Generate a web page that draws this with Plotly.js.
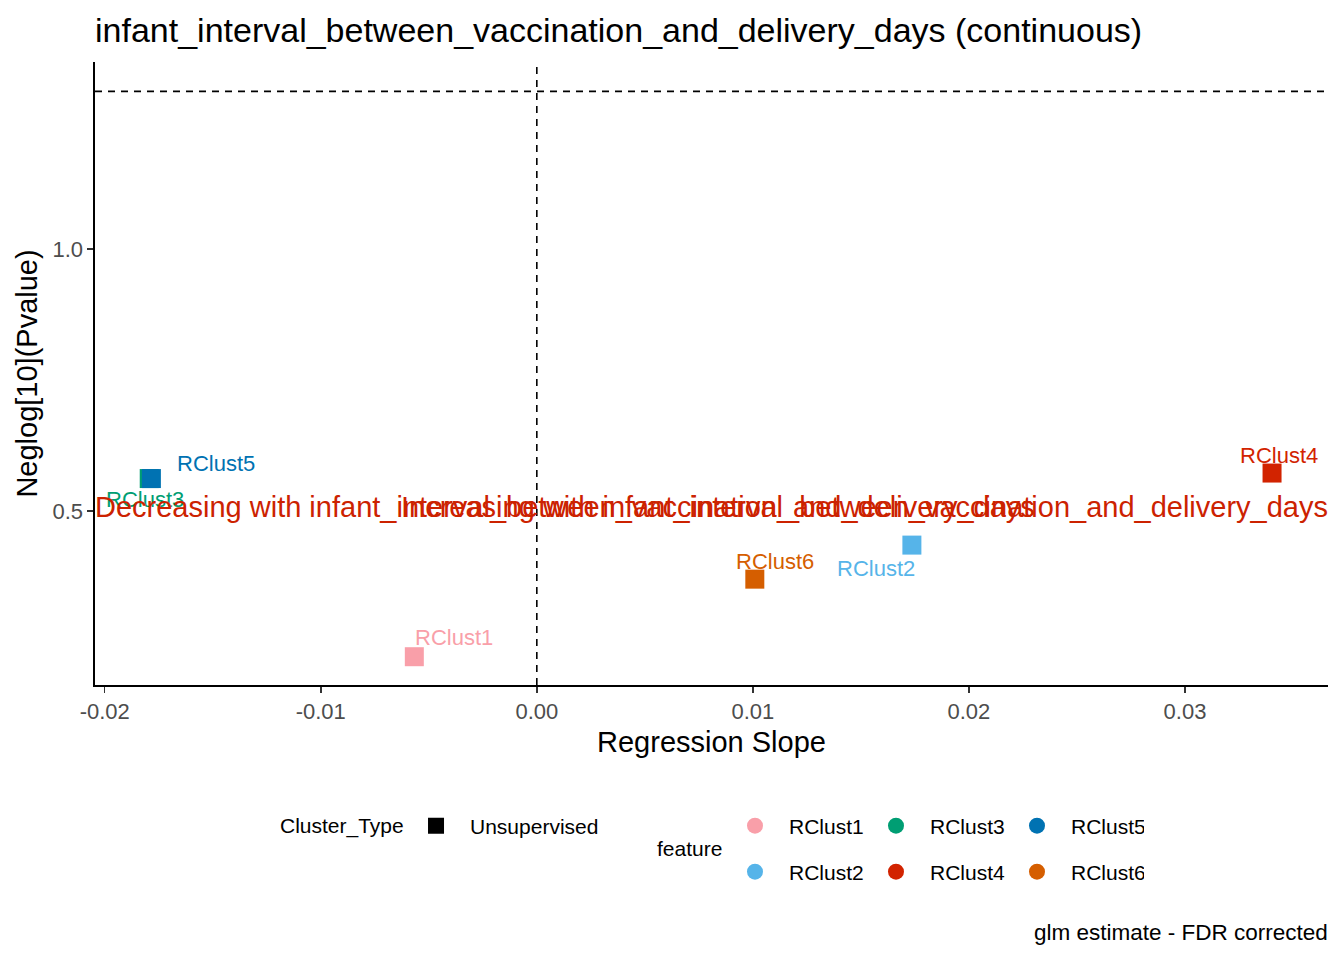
<!DOCTYPE html>
<html>
<head>
<meta charset="utf-8">
<script src="https://cdn.plot.ly/plotly-3.0.1.min.js"></script>
<style>
  html, body { margin: 0; padding: 0; background: #fff; }
  #chart { width: 1344px; height: 960px; }
</style>
</head>
<body>
<div id="chart"></div>
<script>
// data ------------------------------------------------------------------
const features = ["RClust1", "RClust2", "RClust3", "RClust4", "RClust5", "RClust6"];
const slopes = [-0.00567, 0.01736, -0.01794, 0.03403, -0.01784, 0.01009];
const negLogP = [0.222, 0.435, 0.562, 0.5725, 0.562, 0.370];
const clusterType = "Unsupervised";
const sigLine = 1.30103;  // -log10(0.05)
const zeroLine = 0;
const xTickVals = [-0.02, -0.01, 0.00, 0.01, 0.02, 0.03];
const xTickText = ["-0.02", "-0.01", "0.00", "0.01", "0.02", "0.03"];
const yTickVals = [0.5, 1.0];
const yTickText = ["0.5", "1.0"];
const labelY = 0.5;
const outcome = "infant_interval_between_vaccination_and_delivery_days";

// styles ----------------------------------------------------------------
const colors = {
    RClust1: "#F99FA9", RClust2: "#56B4E9", RClust3: "#009E73",
    RClust4: "#D22300", RClust5: "#0072B2", RClust6: "#D55E00"
};
const labelShift = {
    RClust1: [40, 19], RClust2: [-36, -23], RClust3: [-4, -21],
    RClust4: [7, 18], RClust5: [65, 15], RClust6: [20, 18]
};
const FONT = "Liberation Sans, Arial, sans-serif";
const legendRow = { RClust1: "legend2", RClust3: "legend2", RClust5: "legend2",
                    RClust2: "legend3", RClust4: "legend3", RClust6: "legend3" };
const legendOrder = ["RClust1", "RClust3", "RClust5", "RClust2", "RClust4", "RClust6"];

// traces ----------------------------------------------------------------
let data = [];
// points drawn in order so RClust5 sits on top of RClust3
features.forEach((f, i) => {
    data.push({
        x: [slopes[i]], y: [negLogP[i]], type: "scatter", mode: "markers",
        marker: { symbol: "square", size: 19, color: colors[f] },
        showlegend: false, hoverinfo: "x+y+name", name: f
    });
});

// legend entries
data.push({
    x: [null], y: [null], type: "scatter", mode: "markers", name: clusterType,
    marker: { symbol: "square", size: 16, color: "black" },
    legend: "legend", showlegend: true
});
legendOrder.forEach(f => {
    data.push({
        x: [null], y: [null], type: "scatter", mode: "markers", name: f,
        marker: { symbol: "circle", size: 16, color: colors[f] },
        legend: legendRow[f], showlegend: true
    });
});

// annotations -------------------------------------------------------------
let annotations = features.map((f, i) => ({
    x: slopes[i], y: negLogP[i], xref: "x", yref: "y", text: f, showarrow: false,
    xshift: labelShift[f][0], yshift: labelShift[f][1],
    font: { family: FONT, size: 22, color: colors[f] }
}));
annotations.push({
    x: 0, xref: "paper", xanchor: "left", y: labelY, yref: "y", yshift: 4, xshift: -2,
    text: "Decreasing with " + outcome, showarrow: false,
    font: { family: FONT, size: 29, color: "#CC2200" }
});
annotations.push({
    x: 1, xref: "paper", xanchor: "right", y: labelY, yref: "y", yshift: 4, xshift: 2,
    text: "Increasing with " + outcome, showarrow: false,
    font: { family: FONT, size: 29, color: "#CC2200" }
});
annotations.push({
    x: 0.1484, xref: "paper", xanchor: "left", y: -0.2263, yref: "paper", yanchor: "middle",
    text: "Cluster_Type", showarrow: false, font: { family: FONT, size: 21, color: "black" }
});
annotations.push({
    x: 0.4542, xref: "paper", xanchor: "left", y: -0.2632, yref: "paper", yanchor: "middle",
    text: "feature", showarrow: false, font: { family: FONT, size: 21, color: "black" }
});
annotations.push({
    x: 1, xref: "paper", xanchor: "right", y: -0.398, yref: "paper", yanchor: "middle",
    text: "glm estimate - FDR corrected", showarrow: false, xshift: 2,
    font: { family: FONT, size: 22.5, color: "black" }
});

// layout ----------------------------------------------------------------
const legendBase = {
    orientation: "h", xanchor: "left", yanchor: "middle", itemwidth: 58,
    font: { family: FONT, size: 21, color: "black" },
    bgcolor: "rgba(0,0,0,0)", itemclick: false, traceorder: "normal"
};

var layout = {
    width: 1344, height: 960,
    margin: { l: 95, r: 16, t: 62, b: 275 },
    paper_bgcolor: "white", plot_bgcolor: "white",
    font: { family: FONT, color: "black" },
    title: {
        text: outcome + " (continuous)", x: 95 / 1344, xanchor: "left",
        y: 1 - 30 / 960, yanchor: "middle",
        font: { family: FONT, size: 34, color: "black" }
    },
    xaxis: {
        range: [-0.02045, 0.03662], tickvals: xTickVals, ticktext: xTickText,
        showgrid: false, zeroline: false, showline: true, linecolor: "black", linewidth: 1.6,
        ticks: "outside", ticklen: 6, tickwidth: 1.5, tickcolor: "#333333",
        tickfont: { family: FONT, size: 22, color: "#4D4D4D" },
        title: { text: "Regression Slope", font: { family: FONT, size: 29, color: "black" }, standoff: 8 }
    },
    yaxis: {
        range: [0.168, 1.357], tickvals: yTickVals, ticktext: yTickText,
        showgrid: false, zeroline: false, showline: true, linecolor: "black", linewidth: 1.6,
        ticks: "outside", ticklen: 6, tickwidth: 1.5, tickcolor: "#333333",
        tickfont: { family: FONT, size: 22, color: "#4D4D4D" },
        title: { text: "Neglog[10](Pvalue)", font: { family: FONT, size: 29, color: "black" }, standoff: 6 }
    },
    shapes: [
        { type: "line", xref: "paper", x0: 0, x1: 1, yref: "y", y0: sigLine, y1: sigLine,
          line: { color: "black", width: 1.6, dash: "7px,6px" } },
        { type: "line", xref: "x", x0: zeroLine, x1: zeroLine, yref: "paper", y0: 0, y1: 1,
          line: { color: "black", width: 1.6, dash: "7px,6px" } }
    ],
    annotations: annotations,
    showlegend: true,
    legend: Object.assign({}, legendBase, { x: 0.249, y: -0.2263 }),
    legend2: Object.assign({}, legendBase, { x: 0.5077, y: -0.2263, entrywidth: 68 }),
    legend3: Object.assign({}, legendBase, { x: 0.5077, y: -0.3002, entrywidth: 68 })
};

Plotly.newPlot("chart", data, layout, { displayModeBar: false, staticPlot: true });
</script>
</body>
</html>
